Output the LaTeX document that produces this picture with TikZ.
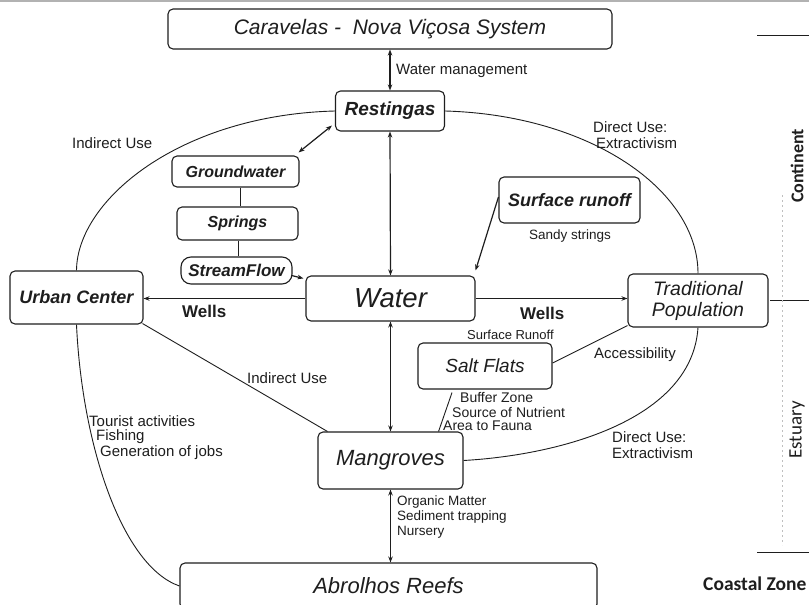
\documentclass[tikz,border=0pt]{standalone}
\usepackage{fontspec}
\setmainfont{Liberation Sans}
\newfontfamily\carlito{Carlito}
\usetikzlibrary{arrows.meta,calc}
\newcommand\fsz[1]{\fontsize{#1}{#1}\selectfont}
\definecolor{ink}{HTML}{1E1E1E}
\begin{document}
\begin{tikzpicture}[x=1pt,y=-1pt,
  box/.style={draw=ink, line width=1.1pt, rounded corners=5pt, inner sep=0pt, text=ink, align=center},
  bnode/.style={box, font=\fsz{17}\bfseries\itshape},
  rnode/.style={box, font=\fsz{20}\itshape},
  con/.style={draw=ink, line width=0.9pt},
  arr/.style={con, line width=1.2pt, -{Stealth[length=6pt,width=4.5pt]}},
  dbl/.style={con, line width=1.2pt, {Stealth[length=6pt,width=4.5pt]}-{Stealth[length=6pt,width=4.5pt]}},
  lab/.style={inner sep=0pt, anchor=west, text=ink, font=\fsz{15}},
  sml/.style={lab, font=\fsz{13}},
  side/.style={inner sep=0pt, text=ink, font=\carlito\bfseries\fsz{20}}]
\useasboundingbox (0,0) rectangle (809,605);
\clip (0,0) rectangle (809,605);
\fill[white] (0,0) rectangle (809,605);
\draw[gray!60, line width=1.5pt] (0,0.8) -- (809,0.8);

% nodes
\node[rnode, minimum width=444pt, minimum height=40pt, font=\fsz{21}\itshape] (top) at (390,29) {Caravelas -\ \ Nova Viçosa System};
\node[bnode, minimum width=109pt, minimum height=40pt, font=\fsz{19}\bfseries\itshape] (rest) at (390,111) {Restingas};
\node[bnode, minimum width=127pt, minimum height=31pt, font=\fsz{16}\bfseries\itshape] (gw) at (235.5,171.5) {Groundwater};
\node[bnode, minimum width=121pt, minimum height=33pt, font=\fsz{16}\bfseries\itshape] (spr) at (237.5,223.5) {Springs};
\node[bnode, minimum width=111pt, minimum height=27pt, rounded corners=10pt] (sf) at (236.5,270.5) {StreamFlow};
\node[bnode, minimum width=133pt, minimum height=53pt, font=\fsz{18}\bfseries\itshape] (urban) at (76.5,297.5) {Urban Center};
\node[rnode, minimum width=169pt, minimum height=45pt, font=\fsz{27.5}\itshape] (water) at (390.5,298.5) {Water};
\node[rnode, minimum width=140pt, minimum height=53pt, font=\fontsize{19.5}{21}\selectfont\itshape] (trad) at (698,300.5) {Traditional\\Population};
\node[bnode, minimum width=141pt, minimum height=46pt, font=\fsz{18}\bfseries\itshape] (surf) at (569.5,200) {Surface runoff};
\node[rnode, minimum width=134pt, minimum height=46pt, font=\fsz{19}\itshape] (salt) at (485,366) {Salt Flats};
\node[rnode, minimum width=145pt, minimum height=57pt, font=\fsz{22}\itshape] (mang) at (390.5,460.5) {Mangroves};
\node[rnode, minimum width=417pt, minimum height=46pt, font=\fsz{22}\itshape] (abr) at (388.5,586) {Abrolhos Reefs};

% helper coordinates
\coordinate (g1) at ([xshift=4.5pt]gw.south);
\coordinate (s1) at ([xshift=0.5pt]spr.south);

% arcs
\draw[con] (rest.west) .. controls (180,115) and (77,200) .. (urban.north);
\draw[con] (rest.east) .. controls (590,115) and (698,190) .. (trad.north);
\draw[con] (urban.south) .. controls (82,445) and (122,566) .. (abr.west);
\draw[con] (trad.south) .. controls (692,420) and (560,455) .. (mang.east);

% connectors
\draw[dbl] (top.south) -- (rest.north);
\draw[dbl] ($(rest.south west)+(-3,-6)$) -- ($(gw.north east)+(-1,-3)$);
\draw[con] (g1) -- (g1 |- spr.north);
\draw[con] (s1) -- (s1 |- sf.north);
\draw[arr] ($(sf.east)+(-1,5)$) -- ($(water.north west)+(-2,3)$);
\draw[dbl] (rest.south) -- (water.north);
\draw[dbl] (water.south) -- (mang.north);
\draw[dbl] (mang.south) -- (mang.south |- abr.north);
\draw[arr] (water.west) -- (water.west -| urban.east);
\draw[arr] (water.east) -- (water.east -| trad.west);
\draw[arr] ($(surf.west)+(0,-3)$) -- ($(water.north east)+(0,-5)$);
\draw[con] ($(salt.east)+(0,-3)$) -- ($(trad.south west)+(0,-2)$);
\draw[con] ($(salt.south)+(-33,3)$) -- ($(mang.north east)+(-25,0)$);
\draw[con] ($(urban.south east)+(-1,-1)$) -- ($(mang.north west)+(10,0)$);

% labels
\node[lab] (l1) at (396,71) {Water management};
\node[lab] (l2) at (72,143) {Indirect Use};
\node[lab] (l3) at (593,127) {Direct Use:};
\node[lab] (l4) at (596,143) {Extractivism};
\node[sml, anchor=center, font=\fsz{13.5}] (l5) at (570,236) {Sandy strings};
\node[lab, font=\fsz{17}\bfseries] (l6) at (182,311) {Wells};
\node[lab, font=\fsz{17}\bfseries] (l7) at (520,313) {Wells};
\node[sml] (l8) at (467,335) {Surface Runoff};
\node[lab] (l9) at (594,355) {Accessibility};
\node[lab] (l10) at (247,378) {Indirect Use};
\node[sml, font=\fsz{14}] (l11) at (460,397) {Buffer Zone};
\node[sml, font=\fsz{14}] (l12) at (452,412) {Source of Nutrient};
\node[sml, font=\fsz{14}] (l13) at (443,426) {Area to Fauna};
\node[lab] (l14) at (89,421) {Tourist activities};
\node[lab] (l15) at (96,437) {Fishing};
\node[lab] (l16) at (100,453) {Generation of jobs};
\node[lab] (l17) at (612,437) {Direct Use:};
\node[lab] (l18) at (612,453) {Extractivism};
\node[sml, font=\fsz{13.5}] (l19) at (397,502) {Organic Matter};
\node[sml, font=\fsz{13.5}] (l20) at (397,517) {Sediment trapping};
\node[sml, font=\fsz{13.5}] (l21) at (397,532) {Nursery};

% side zones
\draw[ink, line width=0.9pt] (757,35) -- (809,35);
\draw[ink, line width=0.9pt] (770,300) -- (809,300);
\draw[ink, line width=0.9pt] (757,552) -- (809,552);
\draw[gray!50, line width=0.7pt, dash pattern=on 2pt off 3pt] (782,195) -- (782,545);
\node[side, rotate=90, font=\carlito\bfseries\fsz{18}] (cont) at (797,166) {Continent};
\node[side, rotate=90, font=\carlito\fsz{19}] (est) at (797,430) {Estuary};
\node[side, anchor=west, font=\carlito\bfseries\fsz{19.5}] (coast) at (703,584) {Coastal Zone};
\end{tikzpicture}
\end{document}
